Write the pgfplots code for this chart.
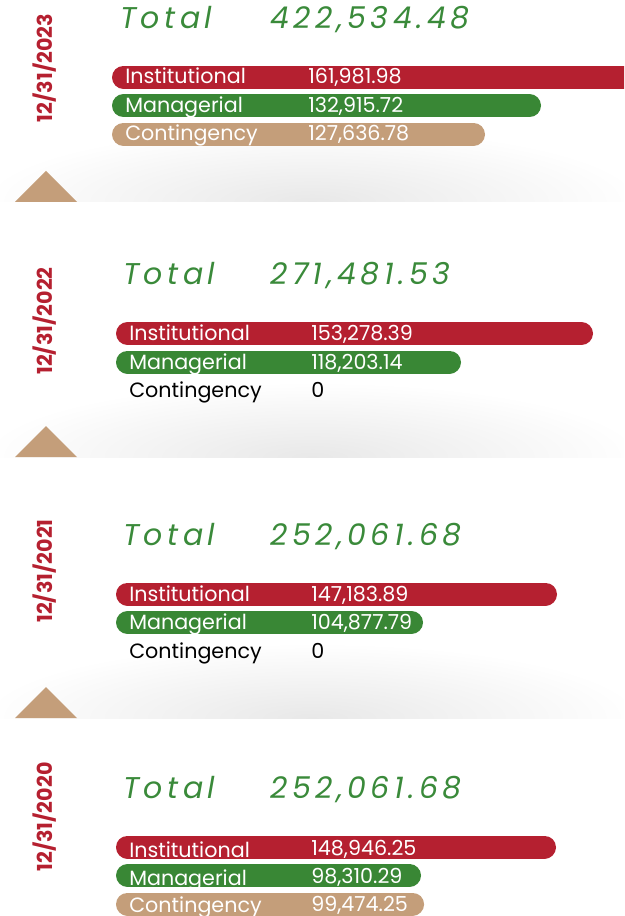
\documentclass[border=0pt]{standalone}
\usepackage{fontspec}
\setmainfont{Poppins}
\usepackage{pgfplots}
\pgfplotsset{compat=1.18}
\definecolor{cred}{RGB}{181,32,48}
\definecolor{cgreen}{RGB}{57,135,53}
\definecolor{ctan}{RGB}{196,158,122}
\definecolor{tgreen}{RGB}{58,138,58}
\newcommand{\totfont}{\fontsize{22.5}{24}\selectfont\itshape\addfontfeature{LetterSpace=15}}
\newcommand{\lblfont}{\fontsize{15.5}{17}\selectfont}
\newcommand{\datefont}{\fontsize{15.5}{17}\selectfont\bfseries}
\pgfplotsset{panel/.style={scale only axis, width=468pt, height=64.125pt,
  axis lines=none, ticks=none, y dir=reverse, ymin=-0.5, ymax=2.5,
  clip=true, anchor=north west},
  bar/.style={line width=17.25pt, line cap=round}}
\begin{document}
\begin{tikzpicture}[x=0.75pt,y=-0.75pt]
\useasboundingbox (0,0) rectangle (624,916);
% shadows and triangles
\foreach \ly in {202,457,718}{
  \begin{scope}
  \clip (0,\ly-75) rectangle (624,\ly);
  \shade[inner color=black!9, outer color=white] (312,\ly) ellipse [x radius=330, y radius=75];
  \end{scope}
  \fill[ctan] (15,\ly) -- (46,\ly-31) -- (77,\ly) -- cycle;
}
\coordinate (a1) at (0,63);
\coordinate (a2) at (0,319.25);
\coordinate (a3) at (0,579.75);
\coordinate (a4) at (0,832.75);
% Panel 2023
\begin{axis}[panel, at={(a1)}, xmin=83002, xmax=141824]
\addplot[bar, cred] coordinates {(94644,0) (161981.98,0)};
\addplot[bar, cgreen] coordinates {(94644,1) (132915.72,1)};
\addplot[bar, ctan] coordinates {(94644,2) (127636.78,2)};
\end{axis}
% Panel 2022
\begin{axis}[panel, at={(a2)}, xmin=-1238, xmax=164573]
\addplot[bar, cred] coordinates {(32642,0) (153278.39,0)};
\addplot[bar, cgreen] coordinates {(32642,1) (118203.14,1)};
\end{axis}
% Panel 2021
\begin{axis}[panel, at={(a3)}, xmin=-25040, xmax=171967]
\addplot[bar, cred] coordinates {(15214,0) (147183.89,0)};
\addplot[bar, cgreen] coordinates {(15214,1) (104877.79,1)};
\end{axis}
% Panel 2020
\begin{axis}[panel, at={(a4)}, xmin=-55287, xmax=178763]
\addplot[bar, cred] coordinates {(-7464,0) (148946.25,0)};
\addplot[bar, cgreen] coordinates {(-7464,1) (98310.29,1)};
\addplot[bar, ctan] coordinates {(-7464,2) (99474.25,2)};
\end{axis}
% texts
\newcommand{\panel}[5]{%
  % #1 total baseline y, #2 date, #3 total, #4 date centre y, #5 total x
  \node[rotate=90, text=cred, font=\datefont] at (45,#4) {#2};
  \node[anchor=base west, text=tgreen, font=\totfont, inner sep=0] at (#5,#1) {Total};
  \node[anchor=base west, text=tgreen, font=\totfont, inner sep=0] at (270,#1) {#3};
}
\panel{29}{12/31/2023}{422,534.48}{68}{120}
\panel{284}{12/31/2022}{271,481.53}{321}{123}
\panel{545}{12/31/2021}{252,061.68}{571}{123}
\panel{798}{12/31/2020}{252,061.68}{817}{123}
\tikzset{lw/.style={anchor=base west, inner sep=0, font=\lblfont, text=white}}
% 2023 rows
\node[lw] at (125,84) {Institutional}; \node[lw] at (308,84) {161,981.98};
\node[lw] at (125,112.5) {Managerial};  \node[lw] at (308,112.5) {132,915.72};
\node[lw] at (125,141) {Contingency};   \node[lw] at (308,141) {127,636.78};
% 2022 rows
\node[lw] at (129,340.5) {Institutional}; \node[lw] at (311,340.5) {153,278.39};
\node[lw] at (129,369) {Managerial};    \node[lw] at (311,369) {118,203.14};
\node[lw, text=black] at (129,397.5) {Contingency}; \node[lw, text=black] at (311,397.5) {0};
% 2021 rows
\node[lw] at (129,601) {Institutional}; \node[lw] at (311,601) {147,183.89};
\node[lw] at (129,629.5) {Managerial};  \node[lw] at (311,629.5) {104,877.79};
\node[lw, text=black] at (129,658) {Contingency}; \node[lw, text=black] at (311,658) {0};
% 2020 rows
\node[lw] at (129,857) {Institutional}; \node[lw] at (311,855) {148,946.25};
\node[lw] at (129,885) {Managerial};  \node[lw] at (311,883.5) {98,310.29};
\node[lw] at (129,912) {Contingency};   \node[lw] at (311,911) {99,474.25};
\end{tikzpicture}
\end{document}
